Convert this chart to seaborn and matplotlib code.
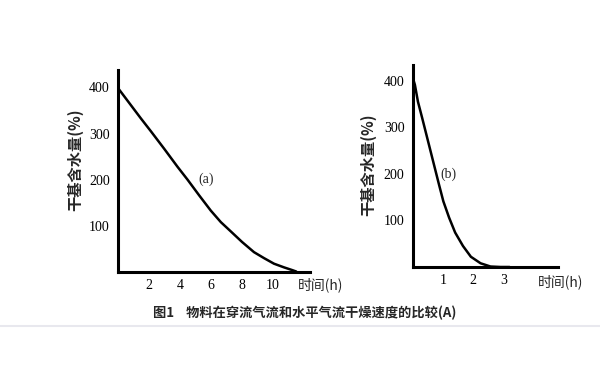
import matplotlib
matplotlib.use("Agg")
import matplotlib.pyplot as plt
import seaborn as sns
import pandas as pd
from matplotlib.lines import Line2D

# Data
time_a = [0, 1.46, 2.11, 2.97, 3.83, 4.48, 5.23, 5.98, 6.63, 7.27, 8.0,
          8.77, 9.42, 10.06, 10.71, 11.25, 11.5]
moist_a = [398, 333, 305, 267, 228, 200, 166, 133, 108, 88, 65,
           43, 30, 18, 10, 4, 1]
time_b = [0.02, 0.07, 0.17, 0.31, 0.45, 0.59, 0.73, 0.87, 1.01, 1.2, 1.4,
          1.66, 1.92, 2.24, 2.57, 2.9, 3.2]
moist_b = [402, 391, 355, 320, 284, 248, 212, 176, 141, 106, 74,
           45, 22, 8, 1, 0, 0]
xticks_a = [2, 4, 6, 8, 10]
xticks_b = [1, 2, 3]
yticks = [100, 200, 300, 400]
ylabel = "干基含水量(%)"
xlabel = "时间(h)"
caption = "图1    物料在穿流气流和水平气流干燥速度的比较(A)"

sns.set_style("white")
plt.rcParams['font.family'] = ['Liberation Serif', 'DejaVu Serif']

fig = plt.figure(figsize=(6, 3.75), dpi=100)
ax_a = fig.add_axes([0.197, 0.2747, 0.32, 0.539])
ax_b = fig.add_axes([0.688, 0.288, 0.242, 0.539])

df_a = pd.DataFrame({"t": time_a, "m": moist_a})
df_b = pd.DataFrame({"t": time_b, "m": moist_b})

sns.lineplot(data=df_a, x="t", y="m", ax=ax_a, color="black", linewidth=1.8,
             estimator=None, sort=False)
sns.lineplot(data=df_b, x="t", y="m", ax=ax_b, color="black", linewidth=1.8,
             estimator=None, sort=False)

cjk = ['Noto Sans CJK SC', 'DejaVu Sans']
for ax, xt, xlim, ylim, lx, ly, ylx, yly, tag, tx in [
        (ax_a, xticks_a, 12.4, 438, 0.9375, -0.064, -0.224, 0.554, "(a)", 5.7),
        (ax_b, xticks_b, 4.8, 434, 0.862, -0.074, -0.31, 0.505, "(b)", 1.17)]:
    ax.set_xlim(0, xlim)
    ax.set_ylim(0, ylim)
    ax.set_xticks(xt)
    ax.set_yticks(yticks)
    ax.set_xlabel("")
    ax.set_ylabel("")
    for s in ["top", "right"]:
        ax.spines[s].set_visible(False)
    for s in ["left", "bottom"]:
        ax.spines[s].set_linewidth(2.2)
        ax.spines[s].set_color("black")
    ax.tick_params(axis="both", direction="in", length=3, width=1.2,
                   labelsize=10, colors="black", pad=5)
    ax.tick_params(axis="y", pad=6)
    ax.text(lx, ly, xlabel, transform=ax.transAxes, ha="left", va="center",
            fontsize=10, family=cjk)
    ax.text(ylx, yly, ylabel, transform=ax.transAxes, ha="center", va="center",
            rotation=90, fontsize=11, fontweight="bold", family=cjk)
    ax.text(tx, 200, tag, ha="center", va="center", fontsize=10)

fig.text(0.507, 0.165, caption, ha="center", va="center", fontsize=9.5,
         fontweight="bold", family=cjk)
fig.add_artist(Line2D([0, 1], [1 - 326 / 375, 1 - 326 / 375],
                      transform=fig.transFigure, color="#e8e8ee", linewidth=1.5))

fig.savefig("out.png", dpi=100)
